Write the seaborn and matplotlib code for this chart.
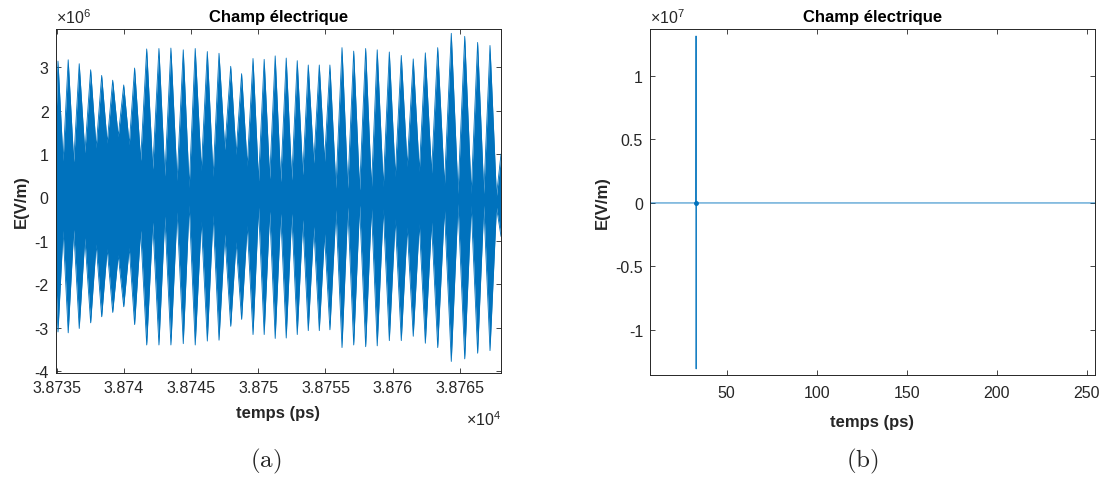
import matplotlib
matplotlib.use("Agg")
import matplotlib.pyplot as plt
import seaborn as sns
import pandas as pd

# ---- (a) enveloppe du champ : t en ps, E en 1e6 V/m ----
t_pics = [38735.10, 38735.86, 38736.68, 38737.53, 38738.35, 38739.17, 38739.99,
          38740.80, 38741.70, 38742.61, 38743.50, 38744.42, 38745.31, 38746.21,
          38747.08, 38747.95, 38748.76, 38749.61, 38750.44, 38751.26, 38752.08,
          38752.90, 38753.72, 38754.54, 38755.33, 38756.23, 38757.10, 38757.99,
          38758.85, 38759.75, 38760.64, 38761.53, 38762.43, 38763.35, 38764.36,
          38765.36, 38766.32, 38767.24]
haut_pics = [3.14, 3.17, 3.08, 2.94, 2.81, 2.70, 2.59, 2.98, 3.42, 3.43, 3.44, 3.40,
             3.43, 3.36, 3.32, 3.02, 2.85, 3.20, 3.18, 3.26, 3.21, 3.15, 3.05, 3.05,
             3.05, 3.45, 3.37, 3.43, 3.40, 3.35, 3.27, 3.19, 3.33, 3.45, 3.78, 3.71,
             3.57, 3.50]
bas_pics = [-3.10, -3.12, -3.02, -2.89, -2.75, -2.65, -2.52, -2.93, -3.40, -3.40,
            -3.40, -3.37, -3.40, -3.31, -3.29, -2.97, -2.81, -3.16, -3.16, -3.25,
            -3.24, -3.16, -3.07, -3.07, -3.05, -3.46, -3.40, -3.44, -3.42, -3.30,
            -3.30, -3.20, -3.36, -3.46, -3.78, -3.72, -3.59, -3.53]

t_creux = [38734.90, 38735.48, 38736.27, 38737.10, 38737.94, 38738.76, 38739.58,
           38740.40, 38741.25, 38742.15, 38743.05, 38743.96, 38744.86, 38745.76,
           38746.64, 38747.51, 38748.35, 38749.18, 38750.02, 38750.85, 38751.67,
           38752.49, 38753.31, 38754.13, 38754.93, 38755.78, 38756.66, 38757.54,
           38758.42, 38759.30, 38760.19, 38761.08, 38761.98, 38762.89, 38763.85,
           38764.86, 38765.84, 38766.78, 38767.72, 38768.06]
haut_creux = [1.25, 0.84, 0.82, 1.03, 1.14, 1.25, 1.40, 1.21, 0.85, 0.65, 0.49, 0.39,
              0.23, 0.62, 0.48, 1.10, 0.99, 0.72, 0.38, 0.43, 0.36, 0.40, 0.52, 0.79,
              0.83, 0.21, 0.21, 0.17, 0.21, 0.25, 0.48, 0.71, 0.60, 0.56, 0.28, 0.09,
              0.09, 0.09, 0.03, 1.00]
bas_creux = [-1.55, -0.76, -0.74, -0.93, -1.07, -1.18, -1.32, -1.15, -0.76, -0.57,
             -0.43, -0.33, -0.17, -0.54, -0.40, -0.84, -1.02, -0.64, -0.23, -0.32,
             -0.37, -0.37, -0.51, -0.67, -0.84, -0.28, -0.22, -0.18, -0.22, -0.26,
             -0.49, -0.68, -0.60, -0.57, -0.26, -0.14, -0.18, -0.18, -0.22, -0.90]

ticks_a_x = [38735, 38740, 38745, 38750, 38755, 38760, 38765]
labels_a_x = ["3.8735", "3.874", "3.8745", "3.875", "3.8755", "3.876", "3.8765"]
ticks_a_y = [-4e6, -3e6, -2e6, -1e6, 0, 1e6, 2e6, 3e6]
labels_a_y = ["-4", "-3", "-2", "-1", "0", "1", "2", "3"]

# ---- (b) impulsion sur toute la simulation ----
t_b = [7.4, 32.9, 33.0, 33.05, 33.1, 33.2, 254.5]
e_b = [0.0, 0.0, 1.315e7, -1.307e7, 0.0, 0.0, 0.0]
ticks_b_x = [50, 100, 150, 200, 250]
ticks_b_y = [-1e7, -0.5e7, 0, 0.5e7, 1e7]
labels_b_y = ["-1", "-0.5", "0", "0.5", "1"]

BLEU = "#0072BD"
GRIS = "#262626"

sns.set_style("ticks", {"xtick.direction": "in", "ytick.direction": "in"})
plt.rcParams["font.family"] = ["Liberation Sans", "DejaVu Sans"]
plt.rcParams["mathtext.fontset"] = "custom"
plt.rcParams["mathtext.rm"] = "Liberation Sans"

fig = plt.figure(figsize=(11.05, 4.81), dpi=100)
ax1 = fig.add_axes([0.0504, 0.2225, 0.4030, 0.7152])
ax2 = fig.add_axes([0.5882, 0.2183, 0.4027, 0.7193])

env = pd.concat([
    pd.DataFrame({"t": t_pics, "haut": haut_pics, "bas": bas_pics}),
    pd.DataFrame({"t": t_creux, "haut": haut_creux, "bas": bas_creux}),
]).sort_values("t")
env["haut"] = env["haut"] * 1e6
env["bas"] = env["bas"] * 1e6

ax1.fill_between(env["t"], env["bas"], env["haut"], color=BLEU, lw=0)
sns.lineplot(data=env, x="t", y="haut", ax=ax1, color=BLEU, lw=0.6, sort=False)
sns.lineplot(data=env, x="t", y="bas", ax=ax1, color=BLEU, lw=0.6, sort=False)
ax1.set_xlim(38734.93, 38768.06)
ax1.set_ylim(-4.045e6, 3.88e6)
ax1.set_xticks(ticks_a_x)
ax1.set_xticklabels(labels_a_x)
ax1.set_yticks(ticks_a_y)
ax1.set_yticklabels(labels_a_y)

df_b = pd.DataFrame({"t": t_b, "E": e_b})
sns.lineplot(data=df_b, x="t", y="E", ax=ax2, color=BLEU, lw=0.7, alpha=0.9, sort=False)
ax2.plot([33.0], [0.0], "o", color=BLEU, ms=2.5)
ax2.set_xlim(7.4, 254.5)
ax2.set_ylim(-1.355e7, 1.37e7)
ax2.set_xticks(ticks_b_x)
ax2.set_xticklabels([str(v) for v in ticks_b_x])
ax2.set_yticks(ticks_b_y)
ax2.set_yticklabels(labels_b_y)

for ax, pad_x, lab_x in ((ax1, 5, 7), (ax2, 7, 10)):
    ax.set_title("Champ électrique", fontsize=12, fontweight="bold", color="black", pad=6)
    ax.set_xlabel("temps (ps)", fontsize=12, fontweight="bold", color=GRIS, labelpad=lab_x)
    ax.set_ylabel("E(V/m)", fontsize=12, fontweight="bold", color=GRIS, labelpad=4)
    ax.tick_params(axis="both", which="both", direction="in", top=True, right=True,
                   length=3.5, width=0.6, labelsize=11.5, colors=GRIS, pad=5)
    ax.tick_params(axis="x", pad=pad_x)
    for sp in ax.spines.values():
        sp.set_visible(True)
        sp.set_color(GRIS)
        sp.set_linewidth(0.7)

ax1.text(0.0, 1.01, r"$\times10^{6}$", transform=ax1.transAxes, ha="left", va="bottom",
         fontsize=11.5, color=GRIS)
ax2.text(0.0, 1.01, r"$\times10^{7}$", transform=ax2.transAxes, ha="left", va="bottom",
         fontsize=11.5, color=GRIS)
ax1.text(1.0, -0.134, r"$\times10^{4}$", transform=ax1.transAxes, ha="right", va="center",
         fontsize=11.5, color=GRIS)

fig.text(0.2405, 0.04, r"$\mathrm{(a)}$", ha="center", va="center", fontsize=18,
         math_fontfamily="cm")
fig.text(0.7805, 0.04, r"$\mathrm{(b)}$", ha="center", va="center", fontsize=18,
         math_fontfamily="cm")

fig.savefig("out.png", dpi=100)
